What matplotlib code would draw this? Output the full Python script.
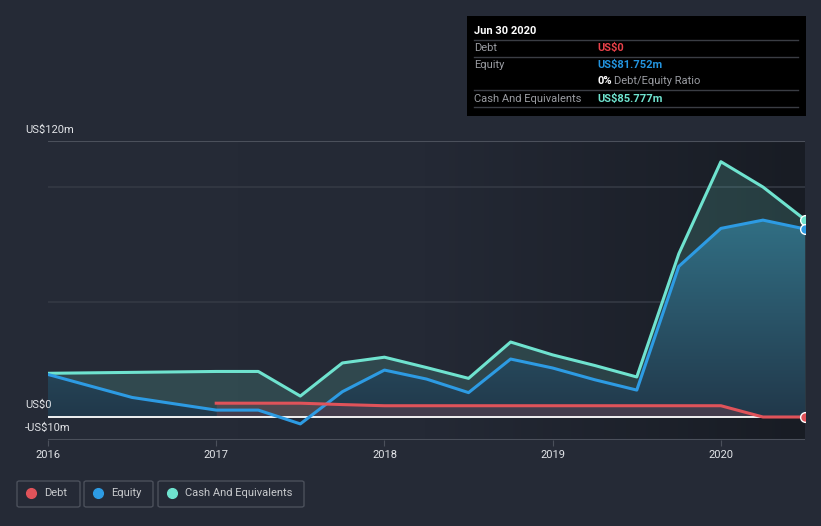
import matplotlib.pyplot as plt
import numpy as np
from matplotlib.patches import FancyBboxPatch, Rectangle
from matplotlib.colors import LinearSegmentedColormap
from matplotlib.lines import Line2D

plt.rcParams['font.family'] = ['Roboto', 'DejaVu Sans']

### DATA (US$m) ###
dates = [2016.0, 2016.5, 2017.0, 2017.25, 2017.5, 2017.75, 2018.0, 2018.25,
         2018.5, 2018.75, 2019.0, 2019.25, 2019.5, 2019.75, 2020.0, 2020.25, 2020.5]
cash = [19.0, 19.4, 19.8, 19.8, 9.1, 23.5, 26.0, 21.5,
        16.8, 32.6, 27.0, 22.4, 17.4, 71.0, 111.0, 100.0, 85.777]
equity = [18.5, 8.5, 3.0, 3.0, -3.0, 11.0, 20.4, 16.5,
          10.6, 25.2, 21.3, 16.2, 11.7, 65.5, 82.0, 85.6, 81.752]
debt_dates = [2017.0, 2017.25, 2017.5, 2017.75, 2018.0, 2018.25, 2018.5, 2018.75,
              2019.0, 2019.25, 2019.5, 2019.75, 2020.0, 2020.25, 2020.5]
debt = [6.0, 6.0, 6.0, 5.4, 4.9, 4.9, 4.9, 4.9,
        4.9, 4.9, 4.9, 4.9, 4.9, 0.0, 0.0]

year_ticks = [2016, 2017, 2018, 2019, 2020]
y_labels = {120: "US$120m", 0: "US$0", -10: "-US$10m"}

### STYLE ###
BG = '#252a36'
C_CASH = '#6fe3cf'
C_EQ = '#2d9be3'
C_DEBT = '#e0535a'
TXT = '#e2e4e8'
GRID = '#343944'
W, H = 821, 526


def fx(x):
    return x / W


def fy(y):
    return 1 - y / H


fig = plt.figure(figsize=(W / 100, H / 100), dpi=100)
fig.patch.set_facecolor(BG)
ax = fig.add_axes([fx(48), fy(440), fx(805) - fx(48), fy(141) - fy(440)])
ax.set_facecolor(BG)
for s in ax.spines.values():
    s.set_visible(False)

xmin, xmax, ymin, ymax = 2016, 2020.5, -10, 120

# Plot area background gradient (lighter left, darker right)
bg_cmap = LinearSegmentedColormap.from_list('bg', ['#262b37', '#242935', '#181c24'])
ax.imshow(np.linspace(0, 1, 256).reshape(1, -1), extent=[xmin, xmax, ymin, ymax],
          aspect='auto', cmap=bg_cmap, zorder=0, interpolation='bicubic')

# Grid lines
for g in [100, 50]:
    ax.axhline(g, color=GRID, lw=1.2, zorder=0.5)
ax.axhline(120, color='#4b505b', lw=1.5, zorder=0.5)
ax.axhline(-10, color='#4b505b', lw=1.5, zorder=0.5)

# Cash fill
ax.fill_between(dates, cash, 0, color=C_CASH, alpha=0.17, lw=0, zorder=1)

# Equity fill with vertical gradient
poly = ax.fill_between(dates, equity, 0, facecolor='none', lw=0, zorder=1.1)
eq_cmap = LinearSegmentedColormap.from_list('eq', ['#21384a', '#2a5569', '#327287'])
im = ax.imshow(np.linspace(0, 1, 256).reshape(-1, 1), extent=[xmin, xmax, 0, 90],
               aspect='auto', cmap=eq_cmap, origin='lower', zorder=1.2)
im.set_clip_path(poly.get_paths()[0], transform=ax.transData)

# Debt fill
ax.fill_between(debt_dates, debt, 0, color=C_DEBT, alpha=0.18, lw=0, zorder=1.3)

# Zero line
ax.axhline(0, color='white', lw=1.3, zorder=2)

# Lines
ax.plot(dates, cash, color=C_CASH, lw=2.2, zorder=3, solid_joinstyle='round')
ax.plot(dates, equity, color=C_EQ, lw=2.2, zorder=3, solid_joinstyle='round')
ax.plot(debt_dates, debt, color=C_DEBT, lw=2.2, zorder=3, solid_joinstyle='round')

# End markers
for val, col in [(cash[-1], C_CASH), (equity[-1], C_EQ), (debt[-1], C_DEBT)]:
    ax.plot([dates[-1]], [val], 'o', ms=7, color=col, mec='white', mew=1, zorder=4)

ax.set_xlim(xmin, xmax)
ax.set_ylim(ymin, ymax)
ax.set_yticks([])
ax.set_xticks(year_ticks)
ax.set_xticklabels([str(y) for y in year_ticks], color=TXT, fontsize=8)
ax.tick_params(axis='x', length=4, color='#4b505b', pad=3)

# Y labels
fig.text(fx(25), fy(130), y_labels[120], color=TXT, fontsize=8, va='center')
fig.text(fx(25), fy(405), y_labels[0], color=TXT, fontsize=8, va='center')
fig.text(fx(25), fy(428), y_labels[-10], color=TXT, fontsize=8, va='center')

# Tooltip box
fig.patches.append(Rectangle((fx(467), fy(116)), fx(806) - fx(467), fy(16) - fy(116),
                             transform=fig.transFigure, facecolor='black', edgecolor='none'))
for ly in [40, 57, 90, 107]:
    fig.add_artist(Line2D([fx(474), fx(798)], [fy(ly), fy(ly)], color='#3a3d44', lw=1,
                          transform=fig.transFigure))
fig.text(fx(474), fy(31), "Jun 30 2020", color='white', fontsize=8, fontweight='bold', va='center')
fig.text(fx(474), fy(48), "Debt", color='#9a9ca2', fontsize=8, va='center')
fig.text(fx(597), fy(48), "US$0", color='#e8414a', fontsize=8, fontweight='bold', va='center')
fig.text(fx(474), fy(65), "Equity", color='#9a9ca2', fontsize=8, va='center')
fig.text(fx(597), fy(65), "US$81.752m", color='#2394df', fontsize=8, fontweight='bold', va='center')
fig.text(fx(597), fy(81), "0%", color='white', fontsize=8, fontweight='bold', va='center')
fig.text(fx(614), fy(81), "Debt/Equity Ratio", color='#9a9ca2', fontsize=8, va='center')
fig.text(fx(474), fy(99), "Cash And Equivalents", color='#9a9ca2', fontsize=8, va='center')
fig.text(fx(597), fy(99), "US$85.777m", color='#6fe3cf', fontsize=8, fontweight='bold', va='center')

# Legend
legend_items = [("Debt", C_DEBT, 17, 80), ("Equity", C_EQ, 84, 153),
                ("Cash And Equivalents", C_CASH, 158, 304)]
for name, col, x0, x1 in legend_items:
    fig.patches.append(FancyBboxPatch((fx(x0), fy(507)), fx(x1) - fx(x0), fy(481) - fy(507),
                                      boxstyle='round,pad=0,rounding_size=0.003',
                                      transform=fig.transFigure, facecolor='none',
                                      edgecolor='#4b505b', lw=1))
    fig.add_artist(Line2D([fx(x0 + 14)], [fy(493)], marker='o', ms=7, color=col, lw=0,
                          transform=fig.transFigure))
    fig.text(fx(x0 + 27), fy(493), name, color='#c8cacd', fontsize=8, va='center')

fig.savefig('out.png', dpi=100, facecolor=BG)
